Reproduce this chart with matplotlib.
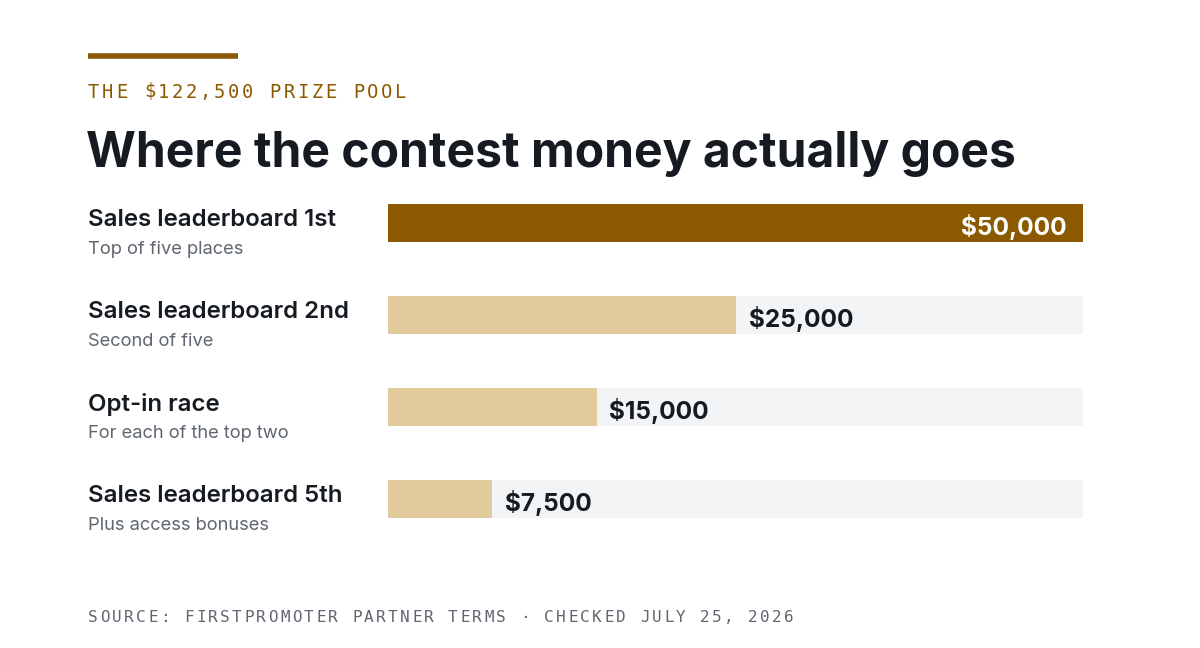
import matplotlib
matplotlib.use("Agg")
from matplotlib import pyplot as plt

labels = ["Sales leaderboard 1st", "Sales leaderboard 2nd", "Opt-in race", "Sales leaderboard 5th"]
sublabels = ["Top of five places", "Second of five", "For each of the top two", "Plus access bonuses"]
values = [50000, 25000, 15000, 7500]
value_labels = ["$50,000", "$25,000", "$15,000", "$7,500"]
max_value = 50000

brown = "#8B5A00"
tan = "#E2CB9A"
track = "#F3F4F6"
dark = "#161B22"
gray = "#5F6670"

fig = plt.figure(figsize=(12, 6.48), dpi=100)
ax = fig.add_axes([0, 0, 1, 1])
ax.set_xlim(0, 1200)
ax.set_ylim(648, 0)
ax.axis("off")


def spaced(x, y, s, step, **kw):
    # letter-spaced monospace text, one glyph at a time
    for k, ch in enumerate(s):
        ax.text(x + k * step, y, ch, family="DejaVu Sans Mono", va="center", ha="left", **kw)


# header
ax.plot([88, 238], [56, 56], color=brown, lw=4, solid_capstyle="butt")
spaced(88, 92, "THE $122,500 PRIZE POOL", 13.95, fontsize=13.5, color=brown)
ax.text(86, 154, "Where the contest money actually goes", family="Inter", fontweight="bold",
        fontsize=34.6, color=dark, va="center", ha="left")

x0, x1 = 388, 1083
scale = (x1 - x0) / max_value
centers = [223, 315, 407, 499]
for i, (lab, sub, v, vl, yc) in enumerate(zip(labels, sublabels, values, value_labels, centers)):
    ax.barh(yc, x1 - x0, left=x0, height=38, color=track)
    w = v * scale
    ax.barh(yc, w, left=x0, height=38, color=brown if i == 0 else tan)
    if i == 0:
        ax.text(x0 + w - 16, yc + 4, vl, family="Inter", fontweight="bold", fontsize=17.6,
                color="white", va="center", ha="right")
    else:
        ax.text(x0 + w + 13, yc + 4, vl, family="Inter", fontweight="bold", fontsize=17.6,
                color=dark, va="center", ha="left")
    ax.text(88, yc - 3, lab, family="Inter", fontweight="semibold", fontsize=17.3,
            color=dark, va="center", ha="left")
    ax.text(88, yc + 26, sub, family="Inter", fontsize=13.2, color=gray,
            va="center", ha="left")

spaced(88, 617, "SOURCE: FIRSTPROMOTER PARTNER TERMS \u00b7 CHECKED JULY 25, 2026", 12.0,
       fontsize=11.5, color=gray)

fig.savefig("out.png", dpi=100, facecolor="white")
